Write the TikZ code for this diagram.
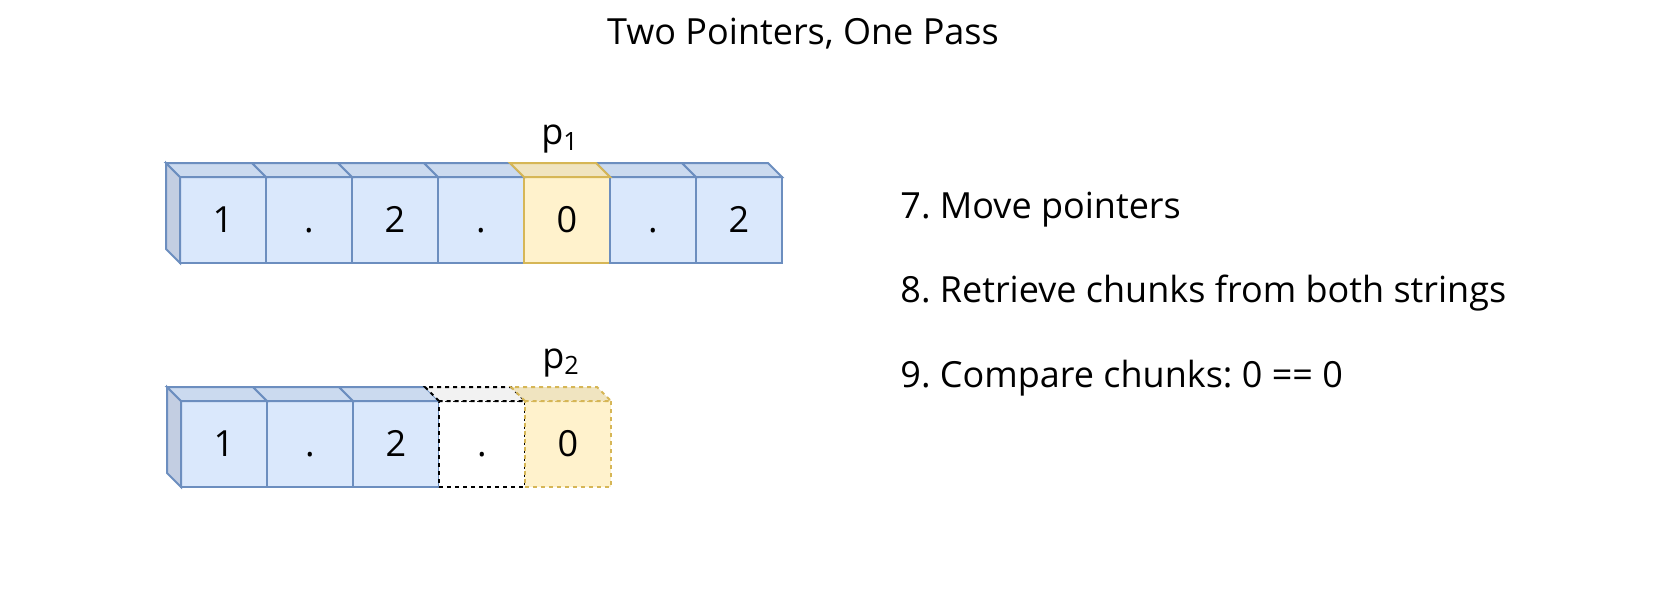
\documentclass[tikz,border=0pt]{standalone}
\usepackage{fontspec}
\setmainfont{Open Sans}
\usepackage{xcolor}
\usetikzlibrary{positioning,calc}
\frenchspacing

\definecolor{cellblue}{HTML}{DAE8FC}
\definecolor{topblue}{HTML}{CBDAEF}
\definecolor{sideblue}{HTML}{C3CEE2}
\definecolor{lineblue}{HTML}{6C8EBF}
\definecolor{cellyellow}{HTML}{FFF2CC}
\definecolor{topyellow}{HTML}{F0E4C0}
\definecolor{lineyellow}{HTML}{D6B656}
\definecolor{topghost}{HTML}{F2F2F2}

\tikzset{
  cell/.style={draw=lineblue, fill=cellblue, line width=1pt, minimum size=43pt,
    inner sep=0pt, outer sep=0pt, execute at begin node=\vphantom{0}},
  hot/.style={draw=lineyellow, fill=cellyellow},
  ghost/.style={draw=black, fill=white, dash pattern=on 2pt off 2pt},
  tblue/.style={draw=lineblue, fill=topblue, line width=1pt},
  tyellow/.style={draw=lineyellow, fill=topyellow, line width=1pt},
  tghost/.style={draw=black, fill=topghost, line width=1pt, dash pattern=on 2pt off 2pt},
  tyellowdash/.style={tyellow, dash pattern=on 2pt off 2pt},
  step text/.style={anchor=west, inner sep=0pt}
}

% top face of a cube sitting behind the front square
\newcommand{\cubetop}[2]{%
  \draw[#2] (#1.north west) -- ++(-14,-14) -- ($(#1.north east)+(-14,-14)$)
    -- (#1.north east) -- cycle;}
% left face, only seen on the first cube
\newcommand{\cubeside}[1]{%
  \draw[draw=lineblue, fill=sideblue, line width=1pt] (#1.north west) -- ++(-14,-14)
    -- ($(#1.south west)+(-14,-14)$) -- (#1.south west) -- cycle;}

\begin{document}
\begin{tikzpicture}[x=0.5pt, y=-0.5pt, every node/.style={font=\fontsize{18}{22}\selectfont}]
    \useasboundingbox (0,0) rectangle (1680,600);

    \node (title) at (803,34) {Two Pointers, One Pass};

    % -------------------------
    % first string
    % -------------------------
    \node[cell] (a1) at (223,220) {1};
    \node[cell, right=0pt of a1] (a2) {.};
    \node[cell, right=0pt of a2] (a3) {2};
    \node[cell, right=0pt of a3] (a4) {.};
    \node[cell, hot, right=0pt of a4] (a5) {0};
    \node[cell, right=0pt of a5] (a6) {.};
    \node[cell, right=0pt of a6] (a7) {2};

    \cubeside{a1}
    \foreach \n in {a1,a2,a3,a4,a6,a7} {\cubetop{\n}{tblue}}
    \cubetop{a5}{tyellow}

    \node (p1) at ($(a5.north)+(-7,-38)$) {p\textsubscript{1}};

    % -------------------------
    % second string
    % -------------------------
    \node[cell] (b1) at (224,444) {1};
    \node[cell, right=0pt of b1] (b2) {.};
    \node[cell, right=0pt of b2] (b3) {2};
    \node[cell, ghost, right=0pt of b3] (b4) {.};
    \node[cell, hot, dash pattern=on 2pt off 2pt, right=0pt of b4] (b5) {0};

    \cubeside{b1}
    \foreach \n in {b1,b2,b3} {\cubetop{\n}{tblue}}
    \cubetop{b4}{tghost}
    \cubetop{b5}{tyellowdash}

    \node (p2) at ($(b5.north)+(-7,-38)$) {p\textsubscript{2}};

    % -------------------------
    % steps
    % -------------------------
    \node[step text] (s7) at (900,210) {7. Move pointers};
    \node[step text] (s8) at (900,293) {8. Retrieve chunks from both strings};
    \node[step text] (s9) at (900,378) {9. Compare chunks: 0 == 0};

\end{tikzpicture}
\end{document}
